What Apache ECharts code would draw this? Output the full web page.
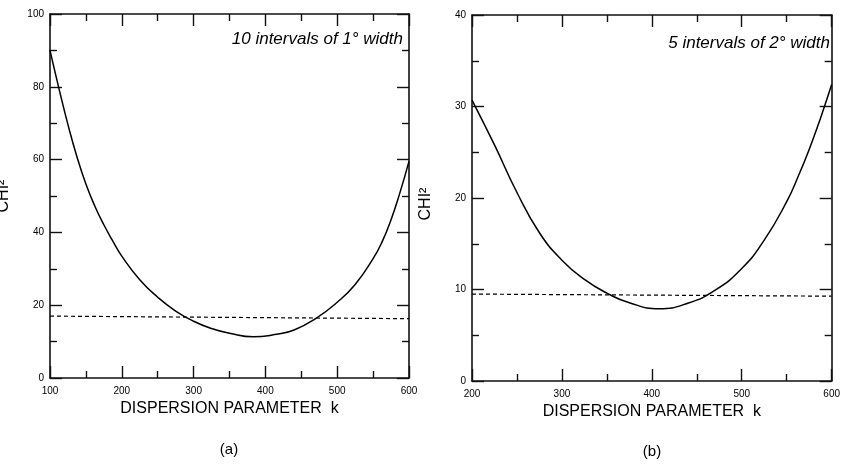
<!DOCTYPE html>
<html><head><meta charset="utf-8">
<script src="https://cdn.jsdelivr.net/npm/echarts@6/dist/echarts.min.js"></script>
<style>html,body{margin:0;padding:0;background:#fff}#c{width:843px;height:472px}</style>
</head><body><div id="c"></div>
<script>
// Panel (a): 10 intervals of 1° width
var kA = [100,112.5,125,137.5,150,162.5,175,187.5,200,225,250,275,300,325,350,383,415,440,470,500,525,550,562.5,575,587.5,600];
var chiA = [90,79.5,69.6,60.8,53.3,47.2,42.1,37.6,33.5,27.0,22.2,18.4,15.6,13.6,12.3,11.3,12.0,13.2,16.3,20.8,25.7,32.8,37.4,43.5,51.0,59.5];
var refKA = [100,600];
var refA = [17.0,16.3];
// Panel (b): 5 intervals of 2° width
var kB = [200,225,250,275,300,325,350,375,408,440,470,500,525,550,562.5,575,587.5,600];
var chiB = [30.7,25.8,20.6,16.2,13.2,11.1,9.6,8.55,7.9,8.5,9.9,12.3,15.4,19.6,22.3,25.3,28.7,32.4];
var refKB = [200,600];
var refB = [9.5,9.27];
var xTicksA = [100,200,300,400,500,600];
var yTicksA = [0,20,40,60,80,100];
var xTicksB = [200,300,400,500,600];
var yTicksB = [0,10,20,30,40];
var xTitle = 'DISPERSION PARAMETER  k';
var yTitle = 'CHI²';
var noteA = '10 intervals of 1° width';
var noteB = '5 intervals of 2° width';

function pairs(xs, ys){ return xs.map(function(x,i){return [x, ys[i]];}); }
var FONT = 'Liberation Sans, Arial, sans-serif';
var lineC = '#111';

function xAx(grid, min, max, pos, show){
  return {
    type:'value', gridIndex:grid, min:min, max:max, interval:100, position:pos,
    axisLine:{show:true, onZero:false, lineStyle:{color:lineC, width:1.6}},
    axisTick:{show:true, inside:true, length:12, lineStyle:{color:lineC, width:1.4}},
    minorTick:{show:true, splitNumber:2, length:7, lineStyle:{color:lineC, width:1.4}},
    splitLine:{show:false},
    axisLabel:{show:show, margin:8, fontSize:10, color:'#000', fontFamily:FONT},
    name: show ? xTitle : '', nameLocation:'middle', nameGap:23,
    nameTextStyle:{fontSize:16, color:'#000', fontFamily:FONT}
  };
}
function yAx(grid, max, itv, pos, show){
  return {
    type:'value', gridIndex:grid, min:0, max:max, interval:itv, position:pos,
    axisLine:{show:true, onZero:false, lineStyle:{color:lineC, width:1.6}},
    axisTick:{show:true, inside:true, length:12, lineStyle:{color:lineC, width:1.4}},
    minorTick:{show:true, splitNumber:2, length:7, lineStyle:{color:lineC, width:1.4}},
    splitLine:{show:false},
    axisLabel:{show:show, margin:6, fontSize:10, color:'#000', fontFamily:FONT}
  };
}

var chart = echarts.init(document.getElementById('c'), null, {renderer:'canvas'});
chart.setOption({
  backgroundColor:'#fff',
  animation:false,
  grid:[
    {left:50, top:14, width:359, height:364},
    {left:472, top:15, width:362, height:366}
  ],
  xAxis:[
    xAx(0,100,600,'bottom',true), xAx(0,100,600,'top',false),
    xAx(1,200,600,'bottom',true), xAx(1,200,600,'top',false)
  ],
  yAxis:[
    yAx(0,100,20,'left',true), yAx(0,100,20,'right',false),
    yAx(1,40,10,'left',true), yAx(1,40,10,'right',false)
  ],
  series:[
    {type:'line', xAxisIndex:0, yAxisIndex:0, data:pairs(kA,chiA), smooth:0.5, showSymbol:false,
     lineStyle:{color:'#000', width:1.5}},
    {type:'line', xAxisIndex:0, yAxisIndex:0, data:pairs(refKA,refA), showSymbol:false,
     lineStyle:{color:'#000', width:1.2, type:[4,3]}},
    {type:'line', xAxisIndex:2, yAxisIndex:2, data:pairs(kB,chiB), smooth:0.5, showSymbol:false,
     lineStyle:{color:'#000', width:1.5}},
    {type:'line', xAxisIndex:2, yAxisIndex:2, data:pairs(refKB,refB), showSymbol:false,
     lineStyle:{color:'#000', width:1.2, type:[4,3]}}
  ],
  graphic:[
    {type:'text', x:403, y:39, style:{text:noteA, font:'italic 17px '+FONT, fill:'#000', textAlign:'right', textVerticalAlign:'middle'}},
    {type:'text', x:830, y:43, style:{text:noteB, font:'italic 17px '+FONT, fill:'#000', textAlign:'right', textVerticalAlign:'middle'}},
    {type:'text', x:4, y:196, rotation:Math.PI/2, style:{text:yTitle, font:'16px '+FONT, fill:'#000', textAlign:'center', textVerticalAlign:'middle'}},
    {type:'text', x:426, y:204, rotation:Math.PI/2, style:{text:yTitle, font:'16px '+FONT, fill:'#000', textAlign:'center', textVerticalAlign:'middle'}},
    {type:'text', x:229, y:450, style:{text:'(a)', font:'15px '+FONT, fill:'#000', textAlign:'center', textVerticalAlign:'middle'}},
    {type:'text', x:652, y:452, style:{text:'(b)', font:'15px '+FONT, fill:'#000', textAlign:'center', textVerticalAlign:'middle'}}
  ]
});
</script></body></html>
